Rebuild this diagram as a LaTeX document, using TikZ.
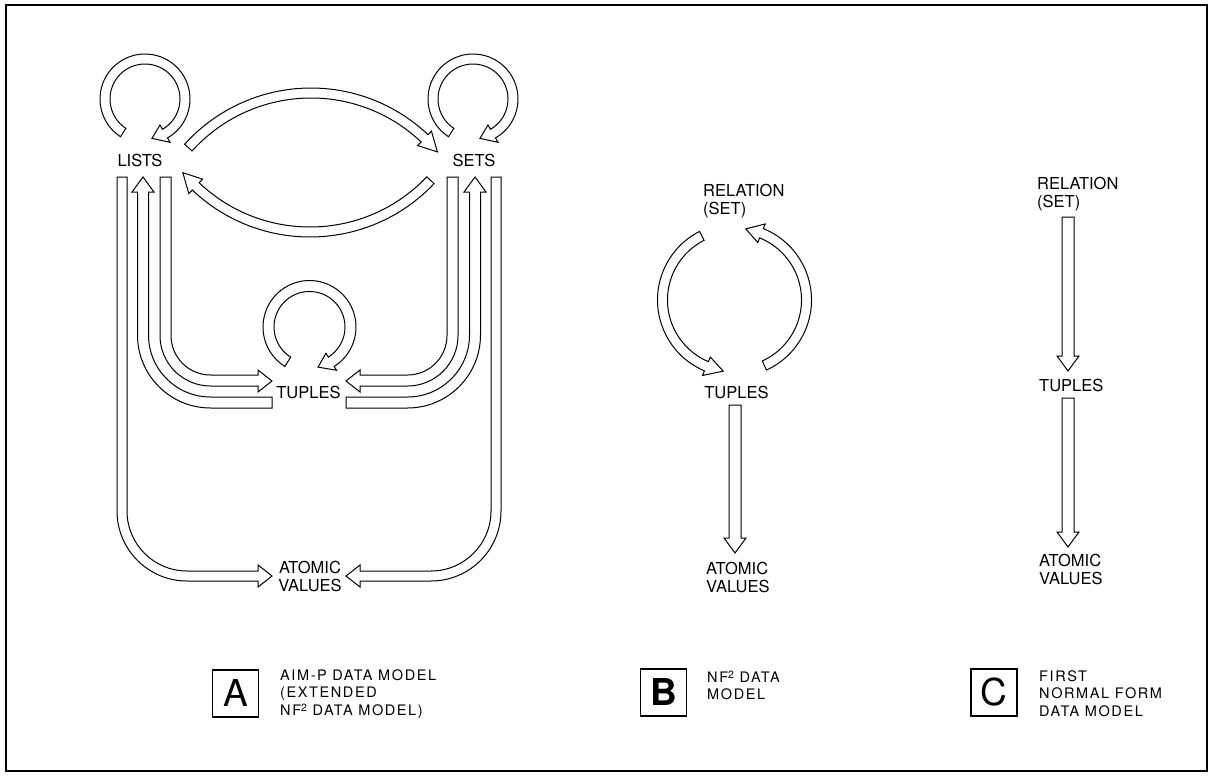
\documentclass[tikz,border=0pt]{standalone}
\usepackage{fontspec}
\setmainfont{TeX Gyre Heros}
\newfontfamily\capfont[LetterSpace=11]{TeX Gyre Heros}
\newcommand\supTwo{\raisebox{0.55ex}{\fontsize{10.5}{10.5}\selectfont 2}}
% circular band arrow: cx, cy, r, halfwidth, tail angle, head-base angle, tip angle, head halfwidth
\newcommand\bandarc[8]{%
  \draw[band,shift={(#1,#2)}] ({#5}:{#3-#4}) arc[start angle={#5}, end angle={#6}, radius={#3-#4}]
    -- ({#6}:{#3-#8}) -- ({#7}:{#3}) -- ({#6}:{#3+#8}) -- ({#6}:{#3+#4})
    arc[start angle={#6}, end angle={#5}, radius={#3+#4}] -- cycle;}
% vertical band arrow pointing down: x, top, head base, tip, halfwidth, head halfwidth
\newcommand\vband[6]{%
  \draw[band] ({#1-#5},{#2}) -- ({#1-#5},{#3}) -- ({#1-#6},{#3}) -- ({#1},{#4})
    -- ({#1+#6},{#3}) -- ({#1+#5},{#3}) -- ({#1+#5},{#2}) -- cycle;}
\begin{document}
\begin{tikzpicture}[x=1pt,y=1pt,yscale=-1,
  band/.style={draw=black,line width=1pt,fill=white,line join=miter},
  lbl/.style={inner sep=0pt,align=center,font=\fontsize{16.5}{18}\selectfont},
  captxt/.style={inner sep=0pt,align=left,anchor=west,font=\capfont\fontsize{14.5}{17.5}\selectfont},
  letterbox/.style={draw,line width=1.4pt,minimum width=46pt,minimum height=47pt,inner sep=0pt,font=\fontsize{37}{40}\selectfont}]
\useasboundingbox (0,0) rectangle (1213,776);
\draw[line width=1.2pt] (6,5) rectangle (1207,771);

% ---------------- Panel A ----------------
\node[lbl] (lists) at (140,160) {LISTS};
\node[lbl] (sets) at (474,160) {SETS};
\node[lbl] (tuplesA) at (308.5,392) {TUPLES};
\node[lbl] (atomA) at (310,576) {ATOMIC\\VALUES};

% self loops
\bandarc{145}{99}{40}{5}{123}{420}{440}{10}
\bandarc{473}{99}{40}{5}{123}{420}{440}{10}
\bandarc{309.5}{327}{41}{5.5}{122}{418}{438}{10}
% lists -> sets (upper), sets -> lists (lower)
\bandarc{311}{258}{165}{5}{222}{313.5}{320}{10}
\bandarc{310}{66}{166}{5}{43.5}{133.5}{140}{10}

% left side: lists -> atomic values (outer)
\draw[band] (117,177) -- (117,511) arc[start angle=180,end angle=90,radius=70]
  -- (258,581) -- (258,587) -- (272,576) -- (258,565) -- (258,571) -- (187,571)
  arc[start angle=90,end angle=180,radius=60] -- (127,177) -- cycle;
% tuples -> lists (middle)
\draw[band] (272,408) -- (210.5,408) arc[start angle=90,end angle=180,radius=73]
  -- (137.5,192) -- (132,192) -- (143,177) -- (154,192) -- (148.5,192) -- (148.5,335)
  arc[start angle=180,end angle=90,radius=62] -- (272,397) -- cycle;
% lists -> tuples (inner)
\draw[band] (160,177) -- (160,335.5) arc[start angle=180,end angle=90,radius=50.5]
  -- (258,386) -- (258,392) -- (272,381) -- (258,370) -- (258,375) -- (210.5,375)
  arc[start angle=90,end angle=180,radius=39.5] -- (171,177) -- cycle;

% right side: sets -> tuples (inner)
\draw[band] (458,177) -- (458,335.5) arc[start angle=0,end angle=90,radius=50.5]
  -- (360,386) -- (360,392) -- (346,381) -- (360,370) -- (360,375) -- (407.5,375)
  arc[start angle=90,end angle=0,radius=39.5] -- (447,177) -- cycle;
% tuples -> sets (middle)
\draw[band] (346,408) -- (407.5,408) arc[start angle=90,end angle=0,radius=73]
  -- (480.5,192) -- (486,192) -- (475,177) -- (464,192) -- (469.5,192) -- (469.5,335)
  arc[start angle=0,end angle=90,radius=62] -- (346,397) -- cycle;
% sets -> atomic values (outer)
\draw[band] (501,177) -- (501,511) arc[start angle=0,end angle=90,radius=70]
  -- (360,581) -- (360,587) -- (346,576) -- (360,565) -- (360,571) -- (431,571)
  arc[start angle=90,end angle=0,radius=60] -- (491,177) -- cycle;

% ---------------- Panel B ----------------
\node[lbl,align=left,anchor=west] (relB) at (703,201.5) {RELATION\\(SET)};
\node[lbl] (tuplesB) at (736.5,392) {TUPLES};
\node[lbl,align=left,anchor=west] (atomB) at (706,577) {ATOMIC\\VALUES};
\bandarc{734.5}{300}{72}{5}{243}{113}{99}{10}
\bandarc{734.5}{300}{72}{5}{65.5}{-68}{-81}{10}
\vband{735}{405}{538}{553}{6}{11}

% ---------------- Panel C ----------------
\node[lbl,align=left,anchor=west] (relC) at (1037,194.5) {RELATION\\(SET)};
\node[lbl,anchor=west] (tuplesC) at (1039,385) {TUPLES};
\node[lbl,align=left,anchor=west] (atomC) at (1039,569.5) {ATOMIC\\VALUES};
\vband{1068}{217}{356}{371}{6}{11}
\vband{1068}{398}{532}{547}{6}{11}

% ---------------- Captions ----------------
\node[letterbox] (boxA) at (235.5,693.5) {A};
\node[captxt] (capA) at (280,694) {AIM-P DATA MODEL\\(EXTENDED\\NF\supTwo{} DATA MODEL)};
\node[letterbox,font=\fontsize{37}{40}\selectfont\bfseries] (boxB) at (663.5,692.5) {B};
\node[captxt] (capB) at (707,685.5) {NF\supTwo{} DATA\\MODEL};
\node[letterbox] (boxC) at (994,692.5) {C};
\node[captxt] (capC) at (1039,693.5) {FIRST\\NORMAL FORM\\DATA MODEL};
\end{tikzpicture}
\end{document}
